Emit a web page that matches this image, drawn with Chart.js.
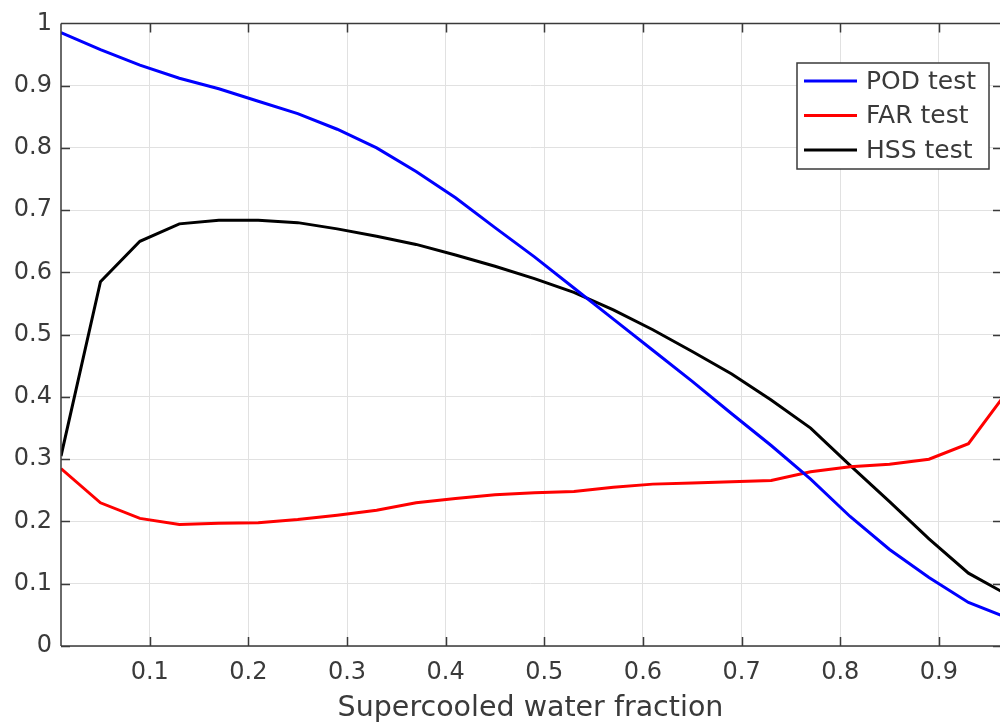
<!DOCTYPE html>
<html>
<head>
<meta charset="utf-8">
<script src="https://cdn.jsdelivr.net/npm/chart.js@4/dist/chart.umd.min.js"></script>
<style>
  html, body { margin: 0; padding: 0; background: #fff; }
  #wrap { width: 1000px; height: 722px; }
</style>
</head>
<body>
<div id="wrap"><canvas id="scoreChart" width="1000" height="722"></canvas></div>
<script>
// supercooled water fraction samples
const fractions = [0.01, 0.05, 0.09, 0.13, 0.17, 0.21, 0.25, 0.29, 0.33, 0.37, 0.41, 0.45, 0.49,
                   0.53, 0.57, 0.61, 0.65, 0.69, 0.73, 0.77, 0.81, 0.85, 0.89, 0.93, 0.97];

const podTest = [0.985, 0.958, 0.933, 0.912, 0.895, 0.875, 0.855, 0.830, 0.800, 0.762, 0.720, 0.672, 0.625,
                 0.575, 0.525, 0.475, 0.425, 0.373, 0.322, 0.268, 0.208, 0.155, 0.110, 0.070, 0.045];
const farTest = [0.285, 0.230, 0.205, 0.195, 0.197, 0.198, 0.203, 0.210, 0.218, 0.230, 0.237, 0.243, 0.246,
                 0.248, 0.255, 0.260, 0.262, 0.264, 0.266, 0.280, 0.288, 0.292, 0.300, 0.325, 0.410];
const hssTest = [0.305, 0.585, 0.650, 0.678, 0.684, 0.684, 0.680, 0.670, 0.658, 0.645, 0.628, 0.610, 0.590,
                 0.568, 0.540, 0.508, 0.473, 0.437, 0.395, 0.350, 0.290, 0.232, 0.172, 0.117, 0.082];

const xTicks = [0.1, 0.2, 0.3, 0.4, 0.5, 0.6, 0.7, 0.8, 0.9];
const yTicks = [0, 0.1, 0.2, 0.3, 0.4, 0.5, 0.6, 0.7, 0.8, 0.9, 1];

const FONT = "'DejaVu Sans', sans-serif";
const TEXT = '#3a3a3a';

function toPoints(ys) {
    return fractions.map((x, i) => ({ x: x, y: ys[i] }));
}

// inward ticks + box like the matlab axes
const boxPlugin = {
    id: 'box',
    afterDatasetsDraw(chart) {
        let ctx = chart.ctx;
        let a = chart.chartArea;
        let xs = chart.scales.x, ys = chart.scales.y;
        ctx.save();
        ctx.strokeStyle = '#3a3a3a';
        ctx.lineWidth = 1.5;
        ctx.beginPath();
        ctx.moveTo(a.left, a.bottom); ctx.lineTo(a.right + 2, a.bottom);
        ctx.moveTo(a.left, a.top); ctx.lineTo(a.right + 2, a.top);
        ctx.moveTo(a.left, a.top); ctx.lineTo(a.left, a.bottom);
        xTicks.forEach(v => {
            let px = Math.round(xs.getPixelForValue(v)) + 0.5;
            ctx.moveTo(px, a.bottom); ctx.lineTo(px, a.bottom - 9);
            ctx.moveTo(px, a.top); ctx.lineTo(px, a.top + 9);
        });
        yTicks.forEach(v => {
            let py = Math.round(ys.getPixelForValue(v)) + 0.5;
            ctx.moveTo(a.left, py); ctx.lineTo(a.left + 9, py);
            ctx.moveTo(a.right + 2, py); ctx.lineTo(a.right - 7, py);
        });
        ctx.stroke();
        ctx.restore();
    }
};

// legend box inside the plot, top right
const boxLegend = {
    id: 'boxLegend',
    afterDraw(chart) {
        let ctx = chart.ctx;
        let x0 = 797, y0 = 63, w = 192, h = 106;
        ctx.save();
        ctx.fillStyle = '#fff';
        ctx.fillRect(x0, y0, w, h);
        ctx.strokeStyle = '#3a3a3a';
        ctx.lineWidth = 1.5;
        ctx.strokeRect(x0, y0, w, h);
        ctx.font = '25px ' + FONT;
        ctx.textBaseline = 'middle';
        chart.data.datasets.forEach((ds, i) => {
            let cy = y0 + 18 + i * 34.5;
            ctx.strokeStyle = ds.borderColor;
            ctx.lineWidth = 3;
            ctx.beginPath();
            ctx.moveTo(x0 + 7, cy); ctx.lineTo(x0 + 60, cy);
            ctx.stroke();
            ctx.fillStyle = TEXT;
            ctx.fillText(ds.label, x0 + 69, cy + 1);
        });
        ctx.restore();
    }
};

let ctx = document.getElementById('scoreChart').getContext('2d');
new Chart(ctx, {
    type: 'line',
    data: {
        datasets: [
            { label: 'POD test', data: toPoints(podTest), borderColor: '#0000ff', borderWidth: 3 },
            { label: 'FAR test', data: toPoints(farTest), borderColor: '#ff0000', borderWidth: 3 },
            { label: 'HSS test', data: toPoints(hssTest), borderColor: '#000000', borderWidth: 3 }
        ]
    },
    options: {
        responsive: false,
        animation: false,
        elements: { point: { radius: 0 }, line: { tension: 0, fill: false } },
        layout: { padding: { top: 23, right: 0, left: 0, bottom: 0 } },
        plugins: { legend: { display: false }, tooltip: { enabled: false } },
        scales: {
            x: {
                type: 'linear',
                min: 0.01,
                max: 0.962,
                afterBuildTicks: s => { s.ticks = xTicks.map(v => ({ value: v })); },
                afterFit: s => { s.height = 76; },
                grid: { color: '#e1e1e1', lineWidth: 1, drawTicks: false },
                border: { display: false },
                ticks: {
                    color: TEXT, font: { family: FONT, size: 24 }, padding: 12, maxRotation: 0,
                    callback: v => String(v)
                },
                title: {
                    display: true, text: 'Supercooled water fraction',
                    color: TEXT, font: { family: FONT, size: 28.5 }, padding: { top: 4, bottom: -4 }
                }
            },
            y: {
                min: 0,
                max: 1,
                afterBuildTicks: s => { s.ticks = yTicks.map(v => ({ value: v })); },
                afterFit: s => { s.width = 61; },
                grid: { color: '#e1e1e1', lineWidth: 1, drawTicks: false },
                border: { display: false },
                ticks: {
                    color: TEXT, font: { family: FONT, size: 24 }, padding: 9,
                    callback: v => String(v)
                }
            }
        }
    },
    plugins: [boxPlugin, boxLegend]
});
</script>
</body>
</html>
